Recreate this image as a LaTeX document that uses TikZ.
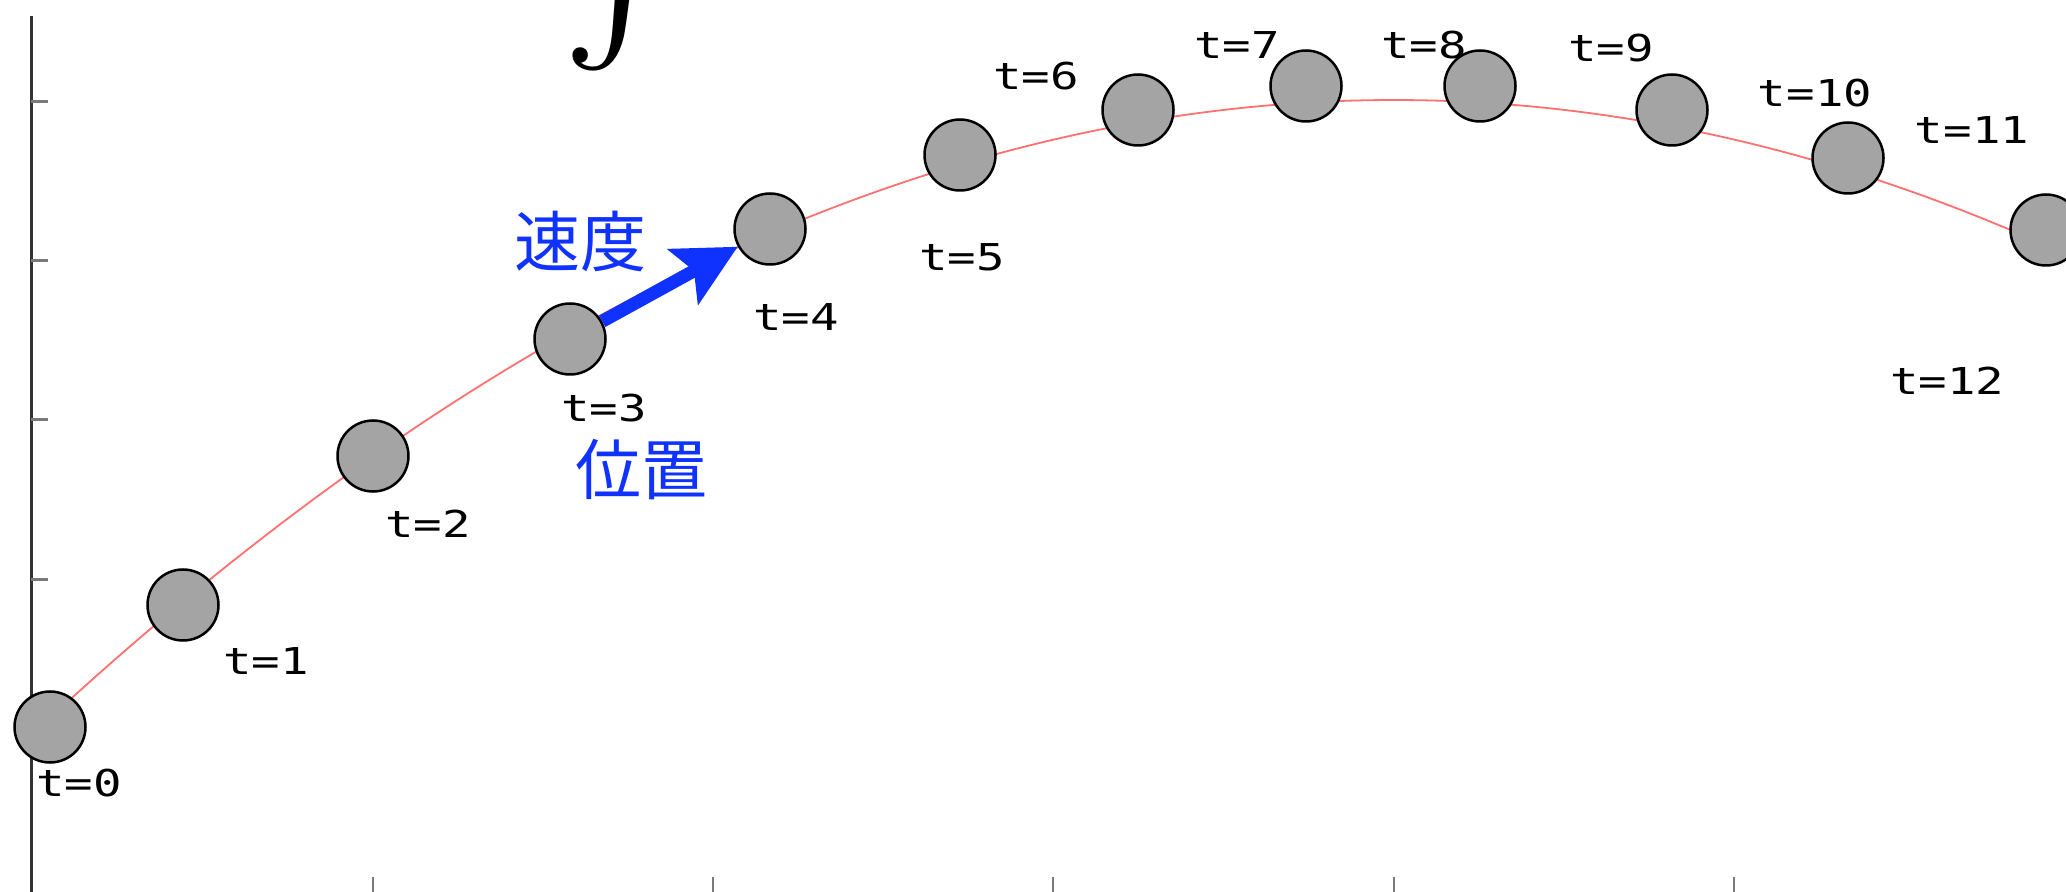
\documentclass[tikz,border=0pt]{standalone}
\usepackage{fontspec}
\usepackage{graphicx}
\usepackage{tikz}
\usetikzlibrary{arrows.meta}
\newfontfamily\labelfont[FakeStretch=1.28]{DejaVu Sans Mono}
\newfontfamily\cjkfont{Noto Sans CJK JP}
\definecolor{ballgray}{HTML}{A4A4A4}
\definecolor{pathred}{HTML}{FF7070}
\definecolor{velblue}{HTML}{0F32FF}
\definecolor{axisgray}{HTML}{333333}
\definecolor{tickgray}{HTML}{7A7A7A}

\begin{document}
\begin{tikzpicture}[x=0.5pt,y=-0.5pt,
  ball/.style={circle,draw=black,line width=1.25pt,fill=ballgray,minimum size=35.5pt,inner sep=0pt},
  tlabel/.style={font=\labelfont\fontsize{18.5}{20}\selectfont,inner sep=0pt},
  jplabel/.style={font=\cjkfont\fontsize{33}{36}\selectfont,text=velblue,inner sep=0pt},
  vel/.style={-{Stealth[length=31pt,width=31pt,inset=6pt]},line width=6.5pt,velblue}]
  \clip (0,0) rectangle (2066,892);

  % Axes
  \draw[line width=1.5pt,axisgray] (31,16) -- (31,892);
  \draw[line width=1.5pt,tickgray] (31,102) -- (48,102);
  \draw[line width=1.5pt,tickgray] (31,261) -- (48,261);
  \draw[line width=1.5pt,tickgray] (31,420) -- (48,420);
  \draw[line width=1.5pt,tickgray] (31,580) -- (48,580);
  \draw[line width=1pt,tickgray] (373,877) -- (373,892);
  \draw[line width=1pt,tickgray] (713,877) -- (713,892);
  \draw[line width=1pt,tickgray] (1053,877) -- (1053,892);
  \draw[line width=1pt,tickgray] (1394,877) -- (1394,892);
  \draw[line width=1pt,tickgray] (1734,877) -- (1734,892);

  % Integral
  \node[anchor=south west,inner sep=0pt] (intsign) at (562,72) {\scalebox{9.3}{$\int$}};

  % Trajectory
  \draw[line width=0.9pt,pathred] plot[domain=45:2066,samples=120] (\x,{100+3.42*((\x-1394)/100)^2});

  % Positions
  \node[ball] (b0) at (50,727) {};
  \node[ball] (b1) at (183,605) {};
  \node[ball] (b2) at (373,456) {};
  \node[ball] (b3) at (570,339) {};
  \node[ball] (b4) at (770,229) {};
  \node[ball] (b5) at (960,155) {};
  \node[ball] (b6) at (1138,110) {};
  \node[ball] (b7) at (1306,86) {};
  \node[ball] (b8) at (1480,86) {};
  \node[ball] (b9) at (1672,110) {};
  \node[ball] (b10) at (1848,158) {};
  \node[ball] (b11) at (2046,230) {};

  % Time labels
  \node[tlabel] (l0) at (79,783) {t=0};
  \node[tlabel] (l1) at (266,661) {t=1};
  \node[tlabel] (l2) at (428,524) {t=2};
  \node[tlabel] (l3) at (604,408) {t=3};
  \node[tlabel] (l4) at (796,317) {t=4};
  \node[tlabel] (l5) at (962,257) {t=5};
  \node[tlabel] (l6) at (1036,76) {t=6};
  \node[tlabel] (l7) at (1237,45) {t=7};
  \node[tlabel] (l8) at (1424,45) {t=8};
  \node[tlabel] (l9) at (1611,48) {t=9};
  \node[tlabel] (l10) at (1815,93) {t=10};
  \node[tlabel] (l11) at (1972,130) {t=11};
  \node[tlabel] (l12) at (1947,381) {t=12};

  % Velocity
  \draw[vel] (b3) -- (b4);
  \node[jplabel] (speed) at (580,241) {速度};
  \node[jplabel] (place) at (641,470) {位置};
\end{tikzpicture}
\end{document}
